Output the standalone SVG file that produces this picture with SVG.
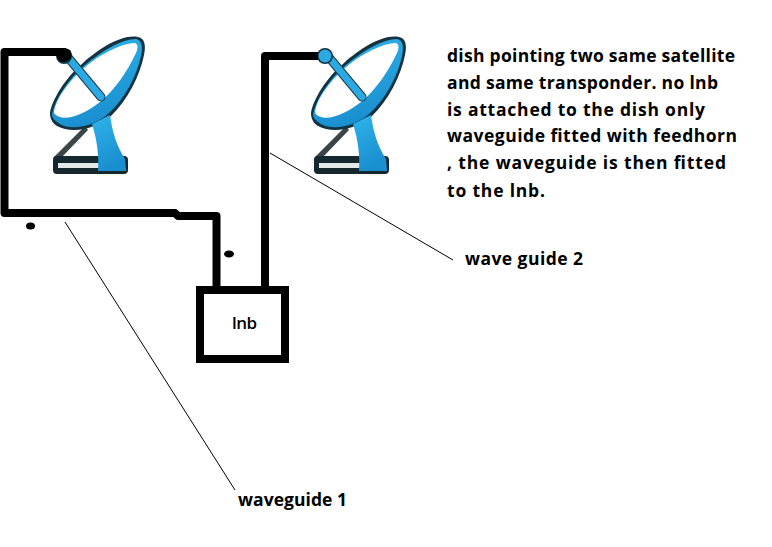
<svg xmlns="http://www.w3.org/2000/svg" width="772" height="547" viewBox="0 0 772 547">
<style>
.t{font-family:"Open Sans","DejaVu Sans",sans-serif;font-weight:700;font-size:17.5px;fill:#000}
.wg{fill:none;stroke:#000;stroke-width:8;stroke-linejoin:round}
.thin{fill:none;stroke:#000;stroke-width:1}
</style>
<defs>
<linearGradient id="blue" x1="0" y1="0" x2="0.3" y2="1"><stop offset="0" stop-color="#2fb4ea"/><stop offset="1" stop-color="#1a8fd0"/></linearGradient>
<g id="dishIcon">
<path d="M53 158L85 126L88 130L61 158Z" fill="#3a4548"/>
<rect x="53" y="156" width="75" height="18" rx="4" fill="#14282e"/>
<rect x="58" y="163" width="41" height="5" fill="#e4e8e6"/>
<path d="M50 113C52 100 65 78 83 63C100 48 122 34 138 37C145 38 146 46 144 55C140 75 128 100 110 117C95 129 72 134 57 126C52 123 50 118 50 113Z" fill="#12333f"/>
<path d="M52 114C55 100 67 80 85 65C102 51 122 39 136 39C142 40 143 47 141 56C137 75 125 99 108 114C94 126 73 131 60 124C55 121 52 118 52 114Z" fill="url(#blue)"/>
<path d="M92 124L110 115C112 130 116 145 125 159L126 171L98 171C99 155 97 140 92 124Z" fill="url(#blue)"/>
<path d="M54 113C55 100 68 82 84 68C100 54 120 44 134 43C139 43 138 50 135 55C128 70 115 90 100 102C85 114 62 124 54 113Z" fill="#fff"/>
<path d="M66 55L101 97" stroke="#1c3a45" stroke-width="9" stroke-linecap="round" fill="none"/>
<path d="M66 55L101 97" stroke="#2aa9e2" stroke-width="7" stroke-linecap="round" fill="none"/>
<circle cx="64" cy="56" r="8" fill="#12333f"/>
<circle cx="64" cy="56" r="6.500" fill="#2aa9e2"/>
</g>
</defs>
<rect width="772" height="547" fill="#fff"/>
<g id="dish-1"><use href="#dishIcon"/><path d="M57 57C56 50 62 47 70 50C73 55 71 60 66 62C62 63 58 61 57 57Z" fill="#000"/></g>
<g id="dish-2"><use href="#dishIcon" x="261"/></g>
<g id="lnb">
<rect x="200" y="290" width="85" height="69" fill="#fff" stroke="#000" stroke-width="8"/>
<text class="t" x="232" y="329" style="font-weight:600;font-size:17px" textLength="25">lnb</text>
</g>
<g id="connectors">
<path class="wg" d="M66 52L4.500 52L4.500 213L175 213L178 216L216.500 216L216.500 287"/>
<path class="wg" d="M265 287L265 56L318 56"/>
<path class="thin" d="M270 153L453 260"/>
<path class="thin" d="M65 222L235 490"/>
<ellipse cx="30.500" cy="226" rx="4.500" ry="3.500"/>
<ellipse cx="229" cy="254" rx="5" ry="3.500"/>
</g>
<g id="notes">
<text class="t" x="447" y="62" textLength="288">dish pointing two same satellite</text>
<text class="t" x="447" y="89" textLength="271">and same transponder. no lnb</text>
<text class="t" x="447" y="116" textLength="258">is attached to the dish only</text>
<text class="t" x="447" y="142" textLength="290">waveguide fitted with feedhorn</text>
<text class="t" x="447" y="169" textLength="279">, the waveguide is then fitted</text>
<text class="t" x="447" y="197" textLength="98">to the lnb.</text>
<text class="t" x="465" y="265" textLength="118">wave guide 2</text>
<text class="t" x="238" y="506" textLength="109">waveguide 1</text>
</g>
</svg>
